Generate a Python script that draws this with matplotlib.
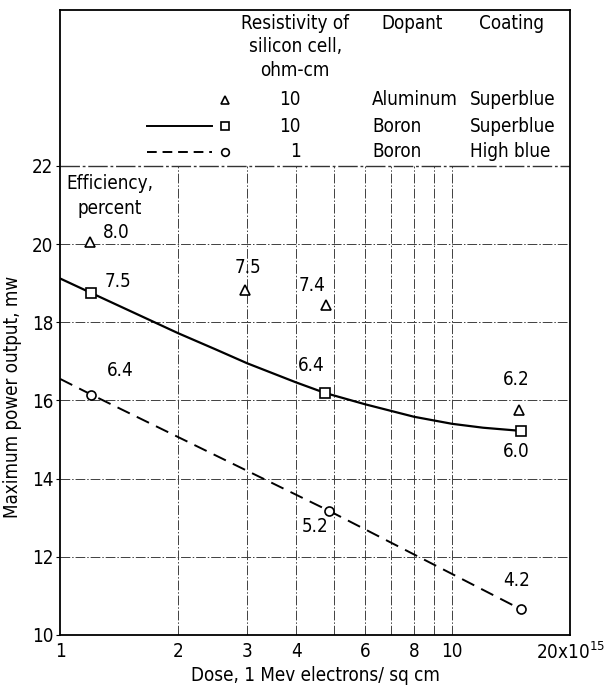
import numpy as np
import matplotlib
matplotlib.use("Agg")
import matplotlib.pyplot as plt

plt.rcParams['font.family'] = ['DejaVu Sans']
plt.rcParams['font.stretch'] = 'condensed'

# aluminum-doped, 10 ohm-cm, superblue (triangles)
al_dose = [1.19, 2.96, 4.77, 14.8]
al_power = [20.06, 18.83, 18.45, 15.76]
al_eff = ["8.0", "7.5", "7.4", "6.2"]

# boron-doped, 10 ohm-cm, superblue (squares + solid curve)
b10_dose = [1.2, 4.74, 14.95]
b10_power = [18.75, 16.19, 15.22]
b10_eff = ["7.5", "6.4", "6.0"]
b10_curve_x = [1.0, 1.2, 1.5, 2.0, 2.5, 3.0, 4.0, 4.74, 6.0, 8.0, 10.0, 12.0, 14.95]
b10_curve_y = [19.12, 18.75, 18.30, 17.72, 17.30, 16.95, 16.46, 16.19, 15.90, 15.58, 15.40, 15.30, 15.22]

# boron-doped, 1 ohm-cm, high blue (circles + dashed line)
b1_dose = [1.2, 4.86, 15.0]
b1_power = [16.15, 13.17, 10.65]
b1_eff = ["6.4", "5.2", "4.2"]
b1_line_x = [1.0, 1.2, 4.86, 15.0]
b1_line_y = [16.55, 16.15, 13.17, 10.65]

xticks = [1, 2, 3, 4, 6, 8, 10, 20]
xticklabels = ["1", "2", "3", "4", "6", "8", "10", "20x10$^{15}$"]
yticks = [10, 12, 14, 16, 18, 20, 22]
vgrid = [2, 3, 4, 5, 6, 7, 8, 9, 10]

fig = plt.figure(figsize=(6.13, 6.9), dpi=100)
ax = fig.add_axes([0.098, 0.080, 0.832, 0.906])
ax.set_xscale('log')
ax.set_xlim(1, 20)
ax.set_ylim(10, 26)

grid_kw = dict(color='0.25', lw=0.7, ls=(0, (10, 2, 1.5, 2)))
for g in vgrid:
    ax.plot([g, g], [10, 22], **grid_kw)
for g in yticks[1:-1]:
    ax.plot([1, 20], [g, g], **grid_kw)
ax.plot([1, 20], [22, 22], color='0.2', lw=1.0, ls=(0, (14, 2, 2, 2)))

ax.plot(b10_curve_x, b10_curve_y, color='black', lw=1.6)
ax.plot(b1_line_x, b1_line_y, color='black', lw=1.4, ls=(0, (7, 4)))

mk = dict(ls='none', mfc='white', mec='black', mew=1.2, zorder=5)
ax.plot(al_dose, al_power, marker='^', ms=7.5, **mk)
ax.plot(b10_dose, b10_power, marker='s', ms=6.5, **mk)
ax.plot(b1_dose, b1_power, marker='o', ms=6.5, **mk)

fs = 13.5
# efficiency labels (offsets in points from each marker)
al_off = [(19, 7), (2, 16), (-10, 14), (-2, 22)]
b10_off = [(19, 8), (-10, 20), (-3, -15)]
b1_off = [(21, 17), (-10, -11), (-3, 21)]
for xs, ys, labs, offs in [(al_dose, al_power, al_eff, al_off),
                           (b10_dose, b10_power, b10_eff, b10_off),
                           (b1_dose, b1_power, b1_eff, b1_off)]:
    for x, y, s, o in zip(xs, ys, labs, offs):
        ax.annotate(s, (x, y), xytext=o, textcoords='offset points',
                    ha='center', va='center', fontsize=fs)

ax.text(1.34, 21.8, "Efficiency,\npercent", ha='center', va='top',
        fontsize=fs, linespacing=1.4)

# legend block above 22
ax.text(3.98, 25.9, "Resistivity of\nsilicon cell,\nohm-cm", ha='center', va='top',
        fontsize=fs, linespacing=1.3)
ax.text(7.9, 25.9, "Dopant", ha='center', va='top', fontsize=fs)
ax.text(14.2, 25.9, "Coating", ha='center', va='top', fontsize=fs)

rows_y = [23.69, 23.02, 22.36]
res = ["10", "10", "1"]
dop = ["Aluminum", "Boron", "Boron"]
coat = ["Superblue", "Superblue", "High blue"]
ax.plot([2.64], [rows_y[0]], marker='^', ms=6, **mk)
ax.plot([2.64], [rows_y[1]], marker='s', ms=5.5, **mk)
ax.plot([2.64], [rows_y[2]], marker='o', ms=5.5, **mk)
ax.plot([1.67, 2.44], [rows_y[1], rows_y[1]], color='black', lw=1.4)
ax.plot([1.67, 2.44], [rows_y[2], rows_y[2]], color='black', lw=1.4, ls=(0, (5, 3)))
for yy, r, d, c in zip(rows_y, res, dop, coat):
    ax.text(4.12, yy, r, ha='right', va='center', fontsize=fs)
    ax.text(6.25, yy, d, ha='left', va='center', fontsize=fs)
    ax.text(11.1, yy, c, ha='left', va='center', fontsize=fs)

ax.set_xticks(xticks)
ax.set_xticklabels(xticklabels, fontsize=fs)
ax.xaxis.set_minor_locator(matplotlib.ticker.NullLocator())
ax.set_yticks(yticks)
ax.set_yticklabels([str(t) for t in yticks], fontsize=fs)
ax.tick_params(axis='x', length=0, pad=5)
ax.tick_params(axis='y', length=3, pad=2)
for s in ax.spines.values():
    s.set_linewidth(1.3)

ax.set_xlabel("Dose, 1 Mev electrons/ sq cm", fontsize=fs, labelpad=2)
ax.set_ylabel("Maximum power output, mw", fontsize=fs, labelpad=6)
ax.yaxis.set_label_coords(-0.075, 0.38)

fig.savefig("out.png", dpi=100)
